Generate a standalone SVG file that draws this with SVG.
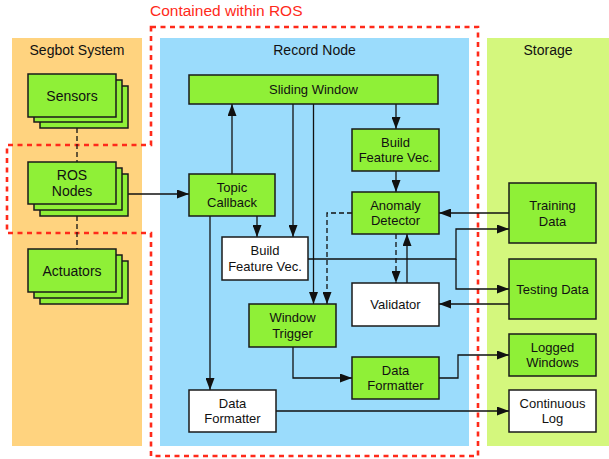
<svg xmlns="http://www.w3.org/2000/svg" width="609" height="459" viewBox="0 0 609 459">
<style>
.t{font-family:"Liberation Sans",Arial,sans-serif;fill:#111;text-anchor:middle}
.h{font-size:14px}
.n{font-size:13px}
.s{font-size:14px}
.g{fill:#8FF037;stroke:#1a1a1a;stroke-width:1.5}
.w{fill:#ffffff;stroke:#1a1a1a;stroke-width:1.5}
.c{fill:none;stroke:#111;stroke-width:1.3}
.d{stroke-dasharray:5,3}
</style>
<defs>
<marker id="ah" markerUnits="userSpaceOnUse" markerWidth="12" markerHeight="9" refX="12" refY="4.5" orient="auto">
<path d="M0,0 L12,4.5 L0,9 z" fill="#111"/>
</marker>
</defs>
<rect width="609" height="459" fill="#fff"/>
<g id="panels">
<rect x="12" y="38" width="130" height="408" fill="#FFD37F"/>
<rect x="160" y="38" width="309" height="408" fill="#9BDCFC"/>
<rect x="487" y="38" width="122" height="408" fill="#D4F77D"/>
<text class="t h" x="77" y="55">Segbot System</text>
<text class="t h" x="314.5" y="55">Record Node</text>
<text class="t h" x="548" y="55">Storage</text>
</g>
<g id="ros-boundary">
<path d="M151,27 H478 V456 H151 V233 H7 V145 H151 Z" fill="none" stroke="#FF2A1A" stroke-width="2.6" stroke-dasharray="5,4.5"/>
<text x="150" y="16" font-family="Liberation Sans,Arial,sans-serif" font-size="15.5" fill="#FF2A1A">Contained within ROS</text>
</g>
<g id="connectors">
<path class="c d" d="M77,128 V162"/>
<path class="c d" d="M77,216 V249"/>
<path class="c" d="M128,194 H189" marker-end="url(#ah)"/>
<path class="c" d="M232,174 V104" marker-end="url(#ah)"/>
<path class="c" d="M257,216 V237" marker-end="url(#ah)"/>
<path class="c" d="M293,104 V237" marker-end="url(#ah)"/>
<path class="c" d="M313.5,104 V304" marker-end="url(#ah)"/>
<path class="c d" d="M352,213 H327 V304" marker-end="url(#ah)"/>
<path class="c" d="M210,216 V390" marker-end="url(#ah)"/>
<path class="c" d="M396,104 V129" marker-end="url(#ah)"/>
<path class="c" d="M396,171 V192" marker-end="url(#ah)"/>
<path class="c" d="M509,213 H439" marker-end="url(#ah)"/>
<path class="c" d="M308,259 H456 V229 H509" marker-end="url(#ah)"/>
<path class="c" d="M456,259 V289 H509" marker-end="url(#ah)"/>
<path class="c" d="M509,304 H439" marker-end="url(#ah)"/>
<path class="c d" d="M396,234 V283" marker-end="url(#ah)"/>
<path class="c" d="M407,283 V234" marker-end="url(#ah)"/>
<path class="c" d="M293,347 V378 H352" marker-end="url(#ah)"/>
<path class="c" d="M439,378 H458 V355 H509" marker-end="url(#ah)"/>
<path class="c" d="M276,411 H509" marker-end="url(#ah)"/>
</g>
<g id="sensors">
<rect class="g" x="40" y="86" width="88" height="42"/>
<rect class="g" x="34" y="80" width="88" height="42"/>
<rect class="g" x="28" y="74" width="88" height="43"/>
<text class="t s" x="72" y="100.5">Sensors</text>
</g>
<g id="ros-nodes">
<rect class="g" x="40" y="174" width="88" height="42"/>
<rect class="g" x="34" y="168" width="88" height="42"/>
<rect class="g" x="28" y="162" width="88" height="42"/>
<text class="t s" x="72" y="180">ROS</text>
<text class="t s" x="72" y="196">Nodes</text>
</g>
<g id="actuators">
<rect class="g" x="40" y="261" width="88" height="43"/>
<rect class="g" x="34" y="255" width="88" height="43"/>
<rect class="g" x="28" y="249" width="88" height="43"/>
<text class="t s" x="72" y="275.5">Actuators</text>
</g>
<g id="sliding-window">
<rect class="g" x="189" y="75" width="249" height="29"/>
<text class="t n" x="313.5" y="94">Sliding Window</text>
</g>
<g id="topic-callback">
<rect class="g" x="189" y="174" width="86" height="42"/>
<text class="t n" x="232" y="192">Topic</text>
<text class="t n" x="232" y="207">Callback</text>
</g>
<g id="build-fv-green">
<rect class="g" x="352" y="129" width="87" height="42"/>
<text class="t n" x="395.5" y="147">Build</text>
<text class="t n" x="395.5" y="162">Feature Vec.</text>
</g>
<g id="anomaly-detector">
<rect class="g" x="352" y="192" width="87" height="42"/>
<text class="t n" x="395.5" y="210">Anomaly</text>
<text class="t n" x="395.5" y="225">Detector</text>
</g>
<g id="build-fv-white">
<rect class="w" x="222" y="237" width="86" height="43"/>
<text class="t n" x="265" y="255">Build</text>
<text class="t n" x="265" y="271">Feature Vec.</text>
</g>
<g id="validator">
<rect class="w" x="352" y="283" width="87" height="43"/>
<text class="t n" x="395.5" y="309">Validator</text>
</g>
<g id="window-trigger">
<rect class="g" x="249" y="304" width="87" height="43"/>
<text class="t n" x="292.5" y="322">Window</text>
<text class="t n" x="292.5" y="338">Trigger</text>
</g>
<g id="data-formatter-green">
<rect class="g" x="352" y="357" width="87" height="42"/>
<text class="t n" x="395.5" y="375">Data</text>
<text class="t n" x="395.5" y="390">Formatter</text>
</g>
<g id="data-formatter-white">
<rect class="w" x="189" y="390" width="87" height="42"/>
<text class="t n" x="232.5" y="408">Data</text>
<text class="t n" x="232.5" y="423">Formatter</text>
</g>
<g id="training-data">
<rect class="g" x="509" y="183" width="87" height="60"/>
<text class="t n" x="552.5" y="210">Training</text>
<text class="t n" x="552.5" y="226">Data</text>
</g>
<g id="testing-data">
<rect class="g" x="509" y="259" width="87" height="60"/>
<text class="t n" x="552.5" y="294">Testing Data</text>
</g>
<g id="logged-windows">
<rect class="g" x="509" y="334" width="87" height="42"/>
<text class="t n" x="552.5" y="352">Logged</text>
<text class="t n" x="552.5" y="367">Windows</text>
</g>
<g id="continuous-log">
<rect class="w" x="509" y="390" width="87" height="42"/>
<text class="t n" x="552.5" y="408">Continuous</text>
<text class="t n" x="552.5" y="423">Log</text>
</g>
</svg>
